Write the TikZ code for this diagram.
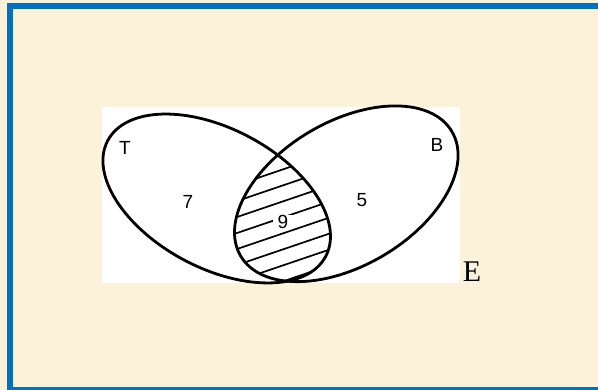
\documentclass[tikz,border=0pt]{standalone}
\usepackage{fontspec}
\setmainfont{Liberation Serif}
\setsansfont{Liberation Sans}
\definecolor{paper}{RGB}{252,241,217}
\definecolor{frameblue}{RGB}{0,112,192}
\begin{document}
\begin{tikzpicture}[x=1pt,y=1pt,
  setlabel/.style={font=\sffamily\fontsize{19}{19}\selectfont, inner sep=1pt},
  hatch/.style={line width=1.7pt},
  setline/.style={line width=2.8pt}]
\def\lx{216.7}
\def\ly{191.5}
\def\rx{346.3}
\def\ry{196.2}
% Page and frame
\clip (0,0) rectangle (598,390);
\fill[paper] (0,0) rectangle (598,390);
\draw[frameblue, line width=6pt] (10,-0.5) rectangle (610,384);
% Universal set
\fill[white] (102,107) rectangle (460,283);
\node[font=\fontsize{30}{30}\selectfont] (E) at (472,118) {E};
% Shaded intersection
\begin{scope}
\clip[rotate around={-28:(\lx,\ly)}] (\lx,\ly) ellipse (123.4pt and 69.6pt);
\clip[rotate around={30.5:(\rx,\ry)}] (\rx,\ry) ellipse (122.6pt and 72pt);
\foreach \yy in {223,207,...,95}
  \draw[hatch] (215,{\yy-25.5}) -- (350,{\yy+20.4});
\end{scope}
% Sets T and B
\draw[setline, rotate around={-28:(\lx,\ly)}] (\lx,\ly) ellipse (123.4pt and 69.6pt);
\draw[setline, rotate around={30.5:(\rx,\ry)}] (\rx,\ry) ellipse (122.6pt and 72pt);
% Labels
\node[setlabel] (T) at (125,242) {T};
\node[setlabel] (B) at (437,245) {B};
\node[setlabel] (seven) at (188,188) {7};
\node[setlabel] (five) at (362,190) {5};
\node[setlabel, fill=white, inner xsep=5pt, inner ysep=0pt] (nine) at (283,168) {9};
\end{tikzpicture}
\end{document}
